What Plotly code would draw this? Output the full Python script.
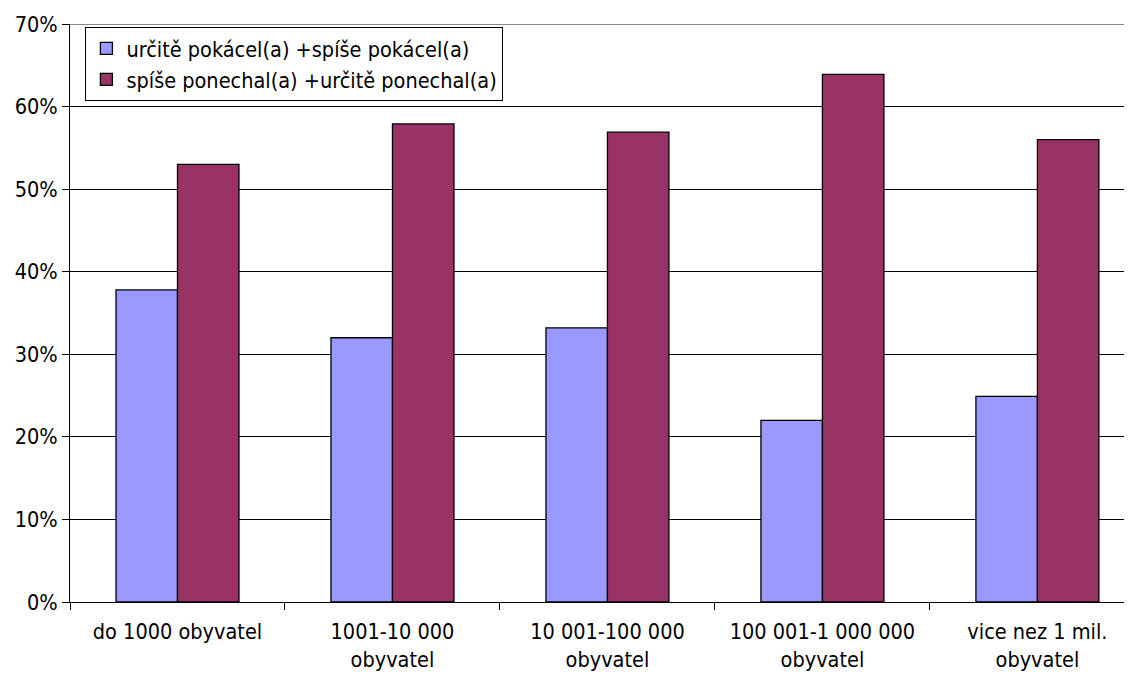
import plotly.graph_objects as go

categories = ["do 1000 obyvatel", "1001-10 000<br>obyvatel", "10 001-100 000<br>obyvatel",
              "100 001-1 000 000<br>obyvatel", "vice nez 1 mil.<br>obyvatel"]
series_names = ["určitě pokácel(a) +spíše pokácel(a)", "spíše ponechal(a) +určitě ponechal(a)"]
cut_values = [0.378, 0.320, 0.332, 0.220, 0.249]
keep_values = [0.530, 0.579, 0.569, 0.639, 0.560]
y_ticks = [0, 0.1, 0.2, 0.3, 0.4, 0.5, 0.6, 0.7]

FONT = "DejaVu Sans Condensed, DejaVu Sans"
FS = 21.5

fig = go.Figure()
fig.add_trace(go.Bar(x=categories, y=cut_values, name=series_names[0], legendgroup="a",
                     marker=dict(color="#9999FF", line=dict(color="black", width=1.3))))
fig.add_trace(go.Bar(x=categories, y=keep_values, name=series_names[1], legendgroup="b",
                     marker=dict(color="#993366", line=dict(color="black", width=1.3))))

fig.update_layout(
    width=1124, height=667,
    margin=dict(l=62, r=0, t=16, b=73),
    paper_bgcolor="white", plot_bgcolor="white",
    font=dict(family=FONT, size=FS, color="black"),
    barmode="group", bargap=0.428, bargroupgap=0,
    showlegend=True,
    legend=dict(x=0.0145, y=0.995, xanchor="left", yanchor="top",
                bgcolor="white", bordercolor="black", borderwidth=1,
                font=dict(family=FONT, size=FS), tracegroupgap=10,
                traceorder="normal"),
    xaxis=dict(type="category", range=[-0.5, 4.44], tickson="boundaries",
               ticks="outside", ticklen=7, tickcolor="black",
               showline=True, linecolor="black", linewidth=1,
               showgrid=False, automargin=False, ticklabelstandoff=10,
               tickfont=dict(family=FONT, size=FS)),
    yaxis=dict(range=[0, 0.7], tickvals=y_ticks, tickformat=".0%",
               ticks="outside", ticklen=7, tickcolor="black",
               showline=True, linecolor="black", linewidth=1,
               showgrid=True, gridcolor="black", gridwidth=1,
               zeroline=False, automargin=False,
               tickfont=dict(family=FONT, size=FS)),
)
fig.add_shape(type="line", xref="paper", yref="y", x0=0, x1=1, y0=0.7, y1=0.7,
              line=dict(color="#888888", width=2))

fig.write_html("out.html")
